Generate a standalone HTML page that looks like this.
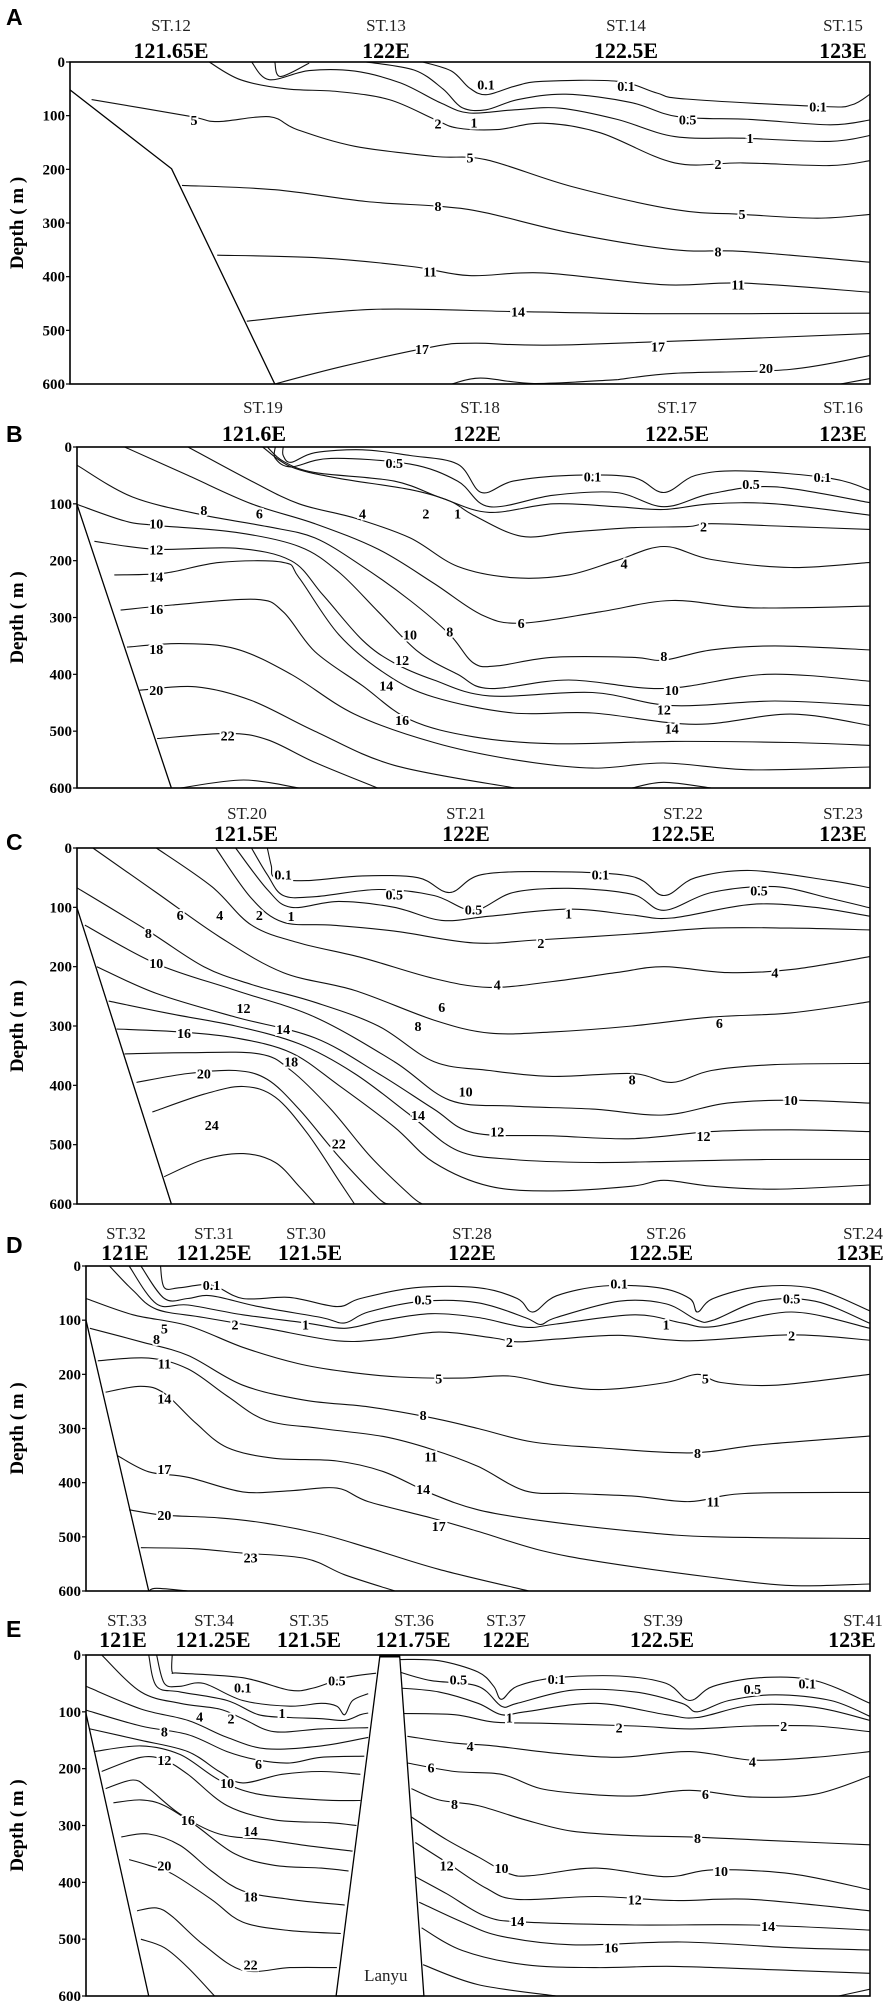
<!DOCTYPE html>
<html><head><meta charset="utf-8"><title>Temperature sections A–E</title>
<style>
html,body{margin:0;padding:0;background:#fff;}
svg{display:block;}
.st{font-family:"Liberation Serif",serif;font-size:17px;fill:#222;}
.lon{font-family:"Liberation Serif",serif;font-size:22px;font-weight:bold;fill:#000;}
.tick{font-family:"Liberation Serif",serif;font-size:15px;font-weight:bold;fill:#000;}
.lbl{font-family:"Liberation Serif",serif;font-size:14px;font-weight:bold;fill:#000;stroke:#fff;stroke-width:4px;paint-order:stroke;}
.letter{font-family:"Liberation Sans",sans-serif;font-size:23px;font-weight:bold;fill:#000;}
.ytitle{font-family:"Liberation Serif",serif;font-size:19px;font-weight:bold;fill:#000;}
</style></head>
<body>
<svg id="fig" width="886" height="2012" viewBox="0 0 886 2012" xmlns="http://www.w3.org/2000/svg"></svg>
<script>
const depthTicks = [0,100,200,300,400,500,600];

// ---------- Panel A ----------
const stationsA = ["ST.12","ST.13","ST.14","ST.15"];
const lonsA = ["121.65E","122E","122.5E","123E"];
const landA = [[0,52],[0.127,199],[0.256,600]];
const linesA = [
 [0.1,[[0.441,0],[0.477,17],[0.499,48],[0.52,61],[0.556,45],[0.591,36],[0.684,36],[0.734,58],[0.77,69],[0.941,83],[0.977,80],[1,60]]],
 [0.5,[[0.37,0],[0.43,15],[0.466,50],[0.49,85],[0.52,89],[0.56,70],[0.62,60],[0.70,75],[0.76,102],[0.85,107],[0.95,117],[1,108]]],
 [1,[[0.227,0],[0.249,33],[0.299,16],[0.356,17],[0.413,39],[0.463,76],[0.499,95],[0.556,89],[0.613,86],[0.684,107],[0.756,139],[0.841,142],[0.949,148],[1,137]]],
 [0.1,[[0.256,0],[0.263,27],[0.299,2]]],
 [2,[[0.174,0],[0.213,33],[0.27,50],[0.334,55],[0.399,70],[0.456,107],[0.484,123],[0.534,126],[0.591,114],[0.663,132],[0.756,188],[0.841,188],[0.949,193],[1,184]]],
 [5,[[0.027,70],[0.149,101],[0.184,111],[0.249,102],[0.284,126],[0.356,157],[0.456,176],[0.52,182],[0.627,232],[0.756,275],[0.841,284],[0.934,291],[1,284]]],
 [8,[[0.14,230],[0.256,238],[0.37,260],[0.463,269],[0.52,281],[0.627,319],[0.756,350],[0.841,353],[1,373]]],
 [11,[[0.184,360],[0.313,365],[0.427,381],[0.499,398],[0.591,393],[0.741,415],[0.841,412],[1,429]]],
 [14,[[0.221,483],[0.377,461],[0.556,465],[0.734,469],[1,468]]],
 [17,[[0.256,600],[0.341,567],[0.456,530],[0.506,524],[0.627,527],[1,506]]],
 [20,[[0.684,592],[0.756,580],[0.899,573],[1,547]]],
 [20,[[0.477,600],[0.513,589],[0.58,599],[0.684,592]]],
 [23,[[0.963,600],[1,590]]]
];
const labelsA = [["0.1",0.52,42],["0.1",0.695,45],["0.1",0.935,83],["0.5",0.772,107],["1",0.505,113],["2",0.46,115],["1",0.85,142],["2",0.81,190],["5",0.155,108],["5",0.5,178],["8",0.46,268],["11",0.45,390],["14",0.56,465],["17",0.44,535],["17",0.735,530],["20",0.87,570],["5",0.84,283],["8",0.81,353],["11",0.835,415]];

// ---------- Panel B ----------
const stationsB = ["ST.19","ST.18","ST.17","ST.16"];
const lonsB = ["121.6E","122E","122.5E","123E"];
const landB = [[0,101],[0.119,600]];
const linesB = [
 [0.1,[[0.26,0],[0.26,15],[0.27,27],[0.3,10],[0.36,5],[0.42,15],[0.48,30],[0.51,80],[0.55,60],[0.62,50],[0.7,53],[0.74,80],[0.78,50],[0.84,42],[0.95,55],[1,76]]],
 [0.5,[[0.25,0],[0.25,20],[0.27,35],[0.32,20],[0.42,30],[0.48,60],[0.52,105],[0.6,85],[0.68,80],[0.74,105],[0.8,82],[0.88,70],[1,98]]],
 [1,[[0.24,0],[0.26,25],[0.3,45],[0.4,60],[0.46,90],[0.52,115],[0.6,100],[0.68,105],[0.74,110],[0.8,100],[0.88,100],[1,120]]],
 [2,[[0.234,0],[0.27,35],[0.33,55],[0.42,75],[0.47,95],[0.5,120],[0.56,157],[0.62,150],[0.7,142],[0.77,140],[0.8,135],[0.9,140],[1,145]]],
 [4,[[0.14,0],[0.22,60],[0.28,100],[0.35,125],[0.42,160],[0.48,210],[0.55,230],[0.62,225],[0.68,200],[0.74,175],[0.8,198],[0.9,212],[1,203]]],
 [6,[[0.06,0],[0.14,50],[0.22,100],[0.3,135],[0.38,180],[0.45,240],[0.51,295],[0.56,310],[0.66,290],[0.75,270],[0.85,283],[1,280]]],
 [8,[[0,32],[0.07,88],[0.16,120],[0.24,140],[0.3,160],[0.36,210],[0.42,270],[0.47,330],[0.5,380],[0.53,385],[0.6,370],[0.7,370],[0.74,375],[0.8,357],[0.88,350],[1,357]]],
 [10,[[0,101],[0.06,130],[0.10,138],[0.2,150],[0.28,175],[0.33,220],[0.38,290],[0.43,360],[0.48,400],[0.52,425],[0.62,410],[0.74,425],[0.87,400],[1,412]]],
 [12,[[0.022,166],[0.1,180],[0.2,178],[0.27,200],[0.31,260],[0.36,340],[0.40,380],[0.45,410],[0.52,438],[0.65,432],[0.75,455],[0.88,447],[1,455]]],
 [14,[[0.047,225],[0.11,222],[0.18,203],[0.26,203],[0.28,230],[0.33,330],[0.39,400],[0.45,440],[0.55,468],[0.65,468],[0.78,488],[0.9,470],[1,490]]],
 [16,[[0.055,287],[0.12,278],[0.225,268],[0.26,290],[0.30,360],[0.36,420],[0.42,480],[0.50,510],[0.60,522],[0.75,518],[0.9,520],[1,525]]],
 [18,[[0.063,352],[0.13,346],[0.20,355],[0.27,400],[0.35,470],[0.45,520],[0.55,550],[0.65,565],[0.74,556],[0.85,568],[1,563]]],
 [20,[[0.079,428],[0.15,422],[0.22,446],[0.30,500],[0.40,560],[0.552,600]]],
 [22,[[0.101,513],[0.19,504],[0.24,515],[0.30,555],[0.379,600]]],
 [24,[[0.13,600],[0.21,586],[0.28,600]]],
 [20,[[0.70,600],[0.74,590],[0.80,600]]]
];
const labelsB = [["0.5",0.4,28],["0.1",0.65,52],["0.5",0.85,65],["0.1",0.94,53],["8",0.16,111],["6",0.23,117],["4",0.36,117],["2",0.44,117],["1",0.48,117],["2",0.79,140],["4",0.69,205],["6",0.56,310],["8",0.74,368],["10",0.75,428],["12",0.74,462],["14",0.75,495],["10",0.1,135],["12",0.1,180],["14",0.1,228],["16",0.1,285],["18",0.1,355],["20",0.1,428],["22",0.19,508],["10",0.42,330],["8",0.47,325],["12",0.41,375],["14",0.39,420],["16",0.41,480]];

// ---------- Panel C ----------
const stationsC = ["ST.20","ST.21","ST.22","ST.23"];
const lonsC = ["121.5E","122E","122.5E","123E"];
const landC = [[0,101],[0.119,600]];
const linesC = [
 [0.1,[[0.24,0],[0.245,30],[0.25,50],[0.29,55],[0.36,47],[0.43,50],[0.47,75],[0.51,45],[0.6,40],[0.7,48],[0.74,80],[0.78,50],[0.85,38],[0.95,55],[1,67]]],
 [0.5,[[0.22,0],[0.24,45],[0.26,80],[0.3,82],[0.38,70],[0.45,80],[0.5,105],[0.55,75],[0.62,68],[0.7,78],[0.74,105],[0.8,75],[0.88,65],[0.95,85],[1,101]]],
 [1,[[0.2,0],[0.24,70],[0.27,100],[0.33,90],[0.4,100],[0.46,122],[0.52,115],[0.62,103],[0.7,113],[0.75,118],[0.85,95],[0.93,100],[1,115]]],
 [2,[[0.175,0],[0.22,85],[0.26,125],[0.32,130],[0.4,140],[0.5,160],[0.58,155],[0.7,145],[0.8,135],[0.9,135],[1,138]]],
 [4,[[0.1,0],[0.17,65],[0.22,130],[0.28,160],[0.36,185],[0.45,220],[0.52,235],[0.6,225],[0.68,210],[0.74,200],[0.82,210],[0.9,205],[1,183]]],
 [6,[[0.02,0],[0.1,75],[0.18,150],[0.26,210],[0.35,240],[0.45,290],[0.52,312],[0.6,310],[0.7,300],[0.8,285],[0.9,278],[1,259]]],
 [8,[[0,67],[0.09,140],[0.16,200],[0.22,230],[0.3,260],[0.38,300],[0.45,360],[0.52,375],[0.6,385],[0.7,380],[0.75,395],[0.8,375],[0.88,365],[1,363]]],
 [10,[[0.01,130],[0.1,195],[0.2,240],[0.3,285],[0.4,360],[0.47,425],[0.55,435],[0.65,440],[0.74,450],[0.82,430],[0.9,425],[1,430]]],
 [12,[[0.025,200],[0.1,245],[0.2,285],[0.3,320],[0.38,380],[0.45,440],[0.5,480],[0.6,485],[0.7,490],[0.8,478],[0.9,475],[1,478]]],
 [14,[[0.04,258],[0.12,280],[0.2,300],[0.28,330],[0.35,380],[0.42,450],[0.48,510],[0.55,525],[0.65,530],[0.75,528],[0.87,525],[1,525]]],
 [16,[[0.05,305],[0.13,310],[0.2,320],[0.27,345],[0.33,400],[0.4,470],[0.45,530],[0.52,570],[0.6,578],[0.7,570],[0.74,560],[0.8,570],[0.88,575],[1,568]]],
 [18,[[0.06,347],[0.14,345],[0.23,347],[0.27,375],[0.32,440],[0.37,520],[0.42,585],[0.435,600]]],
 [20,[[0.075,395],[0.14,380],[0.2,375],[0.24,390],[0.28,440],[0.33,520],[0.38,590],[0.393,600]]],
 [22,[[0.095,445],[0.16,415],[0.21,402],[0.25,420],[0.29,480],[0.33,560],[0.35,600]]],
 [24,[[0.11,554],[0.16,525],[0.21,515],[0.25,530],[0.28,570],[0.30,600]]]
];
const labelsC = [["0.1",0.26,45],["0.5",0.4,78],["0.5",0.5,104],["0.1",0.66,45],["0.5",0.86,72],["1",0.27,115],["1",0.62,110],["2",0.23,113],["4",0.18,113],["6",0.13,113],["8",0.09,143],["10",0.1,194],["12",0.21,270],["14",0.26,305],["16",0.135,312],["18",0.27,360],["20",0.16,380],["24",0.17,467],["22",0.33,498],["2",0.585,160],["4",0.53,230],["6",0.46,268],["8",0.43,300],["10",0.49,410],["12",0.53,478],["14",0.43,450],["4",0.88,210],["6",0.81,295],["8",0.7,390],["10",0.9,425],["12",0.79,485]];

// ---------- Panel D ----------
const stationsD = ["ST.32","ST.31","ST.30","ST.28","ST.26","ST.24"];
const lonsD = ["121E","121.25E","121.5E","122E","122.5E","123E"];
const landD = [[0,100],[0.08,600]];
const linesD = [
 [0.1,[[0.095,0],[0.1,40],[0.12,40],[0.16,35],[0.2,60],[0.26,58],[0.32,75],[0.35,60],[0.42,40],[0.5,40],[0.55,60],[0.57,85],[0.6,55],[0.66,37],[0.73,40],[0.77,60],[0.78,85],[0.8,60],[0.86,38],[0.93,42],[1,83]]],
 [0.5,[[0.07,0],[0.1,60],[0.13,60],[0.16,55],[0.22,75],[0.3,95],[0.33,105],[0.36,85],[0.43,65],[0.5,68],[0.56,95],[0.58,108],[0.6,95],[0.68,65],[0.74,70],[0.78,100],[0.8,100],[0.86,65],[0.93,65],[1,106]]],
 [1,[[0.055,0],[0.09,70],[0.13,72],[0.2,90],[0.28,105],[0.33,115],[0.38,100],[0.44,88],[0.5,95],[0.56,113],[0.6,107],[0.7,90],[0.76,105],[0.8,112],[0.9,85],[1,115]]],
 [2,[[0.03,0],[0.06,45],[0.09,80],[0.15,95],[0.23,115],[0.32,138],[0.38,135],[0.45,122],[0.52,133],[0.55,140],[0.6,135],[0.68,128],[0.77,138],[0.9,127],[1,137]]],
 [5,[[0,60],[0.06,90],[0.13,110],[0.2,150],[0.27,180],[0.33,195],[0.4,205],[0.48,207],[0.54,203],[0.6,220],[0.66,228],[0.74,215],[0.78,200],[0.81,215],[0.88,220],[1,200]]],
 [8,[[0.005,115],[0.07,140],[0.13,165],[0.2,220],[0.28,248],[0.36,260],[0.44,280],[0.5,300],[0.57,325],[0.65,335],[0.77,345],[0.86,330],[1,314]]],
 [11,[[0.015,175],[0.08,170],[0.13,190],[0.18,240],[0.23,285],[0.3,300],[0.38,315],[0.44,338],[0.5,370],[0.56,415],[0.62,420],[0.7,425],[0.77,435],[0.84,420],[1,418]]],
 [14,[[0.025,233],[0.07,222],[0.1,235],[0.14,290],[0.18,335],[0.24,355],[0.32,360],[0.38,380],[0.44,420],[0.5,450],[0.58,470],[0.7,490],[0.8,500],[1,503]]],
 [17,[[0.04,350],[0.08,380],[0.13,390],[0.2,417],[0.26,415],[0.32,410],[0.36,435],[0.44,465],[0.5,490],[0.58,525],[0.66,547],[0.8,575],[0.9,590],[1,587]]],
 [20,[[0.055,450],[0.1,460],[0.17,465],[0.23,475],[0.3,495],[0.36,520],[0.45,560],[0.565,600]]],
 [23,[[0.07,520],[0.14,522],[0.2,530],[0.28,540],[0.33,570],[0.394,600]]],
 [26,[[0.08,600],[0.09,595],[0.13,600]]]
];
const labelsD = [["0.1",0.16,35],["0.1",0.68,32],["0.5",0.43,62],["0.5",0.9,60],["1",0.28,108],["1",0.74,108],["2",0.19,108],["5",0.1,115],["8",0.09,135],["11",0.1,180],["14",0.1,245],["17",0.1,375],["20",0.1,460],["23",0.21,538],["2",0.54,140],["2",0.9,128],["5",0.45,208],["5",0.79,208],["8",0.43,275],["8",0.78,345],["11",0.44,352],["11",0.8,435],["14",0.43,412],["17",0.45,480]];

// ---------- Panel E ----------
const stationsE = ["ST.33","ST.34","ST.35","ST.36","ST.37","ST.39","ST.41"];
const lonsE = ["121E","121.25E","121.5E","121.75E","122E","122.5E","123E"];
const landE = [[0,103],[0.08,600]];
const islandE = [[0.319,600],[0.375,0],[0.4,0],[0.431,600]];
const linesE = [
 [0.1,[[0.11,0],[0.11,30],[0.12,32],[0.2,40],[0.26,62],[0.29,58],[0.33,40],[0.37,32]]],
 [0.5,[[0.09,0],[0.1,50],[0.12,55],[0.15,50],[0.2,80],[0.26,90],[0.3,85],[0.32,90],[0.33,105],[0.34,80],[0.36,68]]],
 [1,[[0.08,0],[0.09,55],[0.12,65],[0.18,80],[0.22,105],[0.26,110],[0.3,112],[0.33,115],[0.35,105],[0.36,102]]],
 [2,[[0.02,0],[0.07,65],[0.12,85],[0.17,95],[0.2,112],[0.24,135],[0.3,130],[0.36,128]]],
 [4,[[0,55],[0.07,95],[0.13,115],[0.18,145],[0.23,165],[0.3,160],[0.36,145]]],
 [6,[[0,97],[0.07,125],[0.13,140],[0.18,170],[0.22,185],[0.26,190],[0.3,180],[0.355,178]]],
 [8,[[0.005,130],[0.07,150],[0.13,170],[0.17,205],[0.2,225],[0.25,210],[0.3,205],[0.35,210]]],
 [10,[[0.01,170],[0.07,160],[0.12,175],[0.17,220],[0.22,245],[0.3,255],[0.35,256]]],
 [12,[[0.02,205],[0.07,180],[0.1,185],[0.13,210],[0.18,265],[0.24,290],[0.31,295],[0.345,300]]],
 [14,[[0.025,235],[0.06,220],[0.08,235],[0.12,280],[0.17,315],[0.23,325],[0.28,335],[0.34,345]]],
 [16,[[0.035,260],[0.07,255],[0.1,265],[0.14,300],[0.19,350],[0.24,370],[0.3,375],[0.335,380]]],
 [18,[[0.045,320],[0.08,315],[0.12,335],[0.16,380],[0.2,415],[0.26,430],[0.33,440]]],
 [20,[[0.055,360],[0.08,370],[0.11,385],[0.16,430],[0.2,470],[0.26,485],[0.325,490]]],
 [22,[[0.065,450],[0.09,445],[0.11,460],[0.15,510],[0.2,555],[0.26,550],[0.32,550]]],
 [24,[[0.07,500],[0.1,515],[0.13,550],[0.164,600]]],
 [0.1,[[0.40,8],[0.45,10],[0.5,30],[0.52,55],[0.53,78],[0.55,55],[0.6,40],[0.68,37],[0.74,50],[0.77,80],[0.8,55],[0.86,40],[0.93,45],[1,85]]],
 [0.5,[[0.40,30],[0.44,45],[0.5,55],[0.53,90],[0.55,85],[0.62,62],[0.7,65],[0.76,85],[0.78,100],[0.82,80],[0.88,70],[0.95,80],[1,108]]],
 [1,[[0.40,58],[0.45,65],[0.5,85],[0.53,105],[0.56,100],[0.65,85],[0.74,105],[0.78,110],[0.85,88],[0.93,92],[1,115]]],
 [2,[[0.40,103],[0.47,105],[0.52,118],[0.58,120],[0.7,125],[0.77,130],[0.85,125],[0.93,125],[1,135]]],
 [4,[[0.41,143],[0.47,155],[0.52,160],[0.6,173],[0.68,180],[0.77,170],[0.85,185],[0.93,180],[1,170]]],
 [6,[[0.41,190],[0.47,205],[0.53,210],[0.58,235],[0.64,245],[0.7,248],[0.77,238],[0.85,250],[0.93,245],[1,213]]],
 [8,[[0.415,235],[0.45,255],[0.5,265],[0.56,290],[0.62,310],[0.7,318],[0.77,320],[0.85,325],[0.93,330],[1,334]]],
 [10,[[0.415,285],[0.46,325],[0.5,355],[0.54,385],[0.57,388],[0.65,375],[0.74,390],[0.8,378],[0.9,385],[1,413]]],
 [12,[[0.42,330],[0.46,365],[0.51,410],[0.55,430],[0.65,425],[0.75,432],[0.85,430],[1,450]]],
 [14,[[0.42,390],[0.46,420],[0.51,460],[0.56,470],[0.7,475],[0.85,475],[1,484]]],
 [16,[[0.425,435],[0.48,470],[0.53,495],[0.62,510],[0.76,505],[0.9,515],[1,519]]],
 [18,[[0.428,480],[0.48,520],[0.56,545],[0.65,550],[0.75,548],[0.9,555],[1,560]]],
 [20,[[0.43,545],[0.5,580],[0.6,600]]],
 [20,[[0.96,600],[1,588]]]
];
const labelsE = [["0.1",0.2,57],["0.5",0.32,45],["1",0.25,102],["2",0.185,112],["4",0.145,108],["8",0.1,135],["12",0.1,185],["6",0.22,192],["10",0.18,225],["16",0.13,290],["14",0.21,310],["20",0.1,370],["18",0.21,425],["22",0.21,545],["0.5",0.475,43],["0.1",0.6,42],["0.5",0.85,60],["0.1",0.92,50],["1",0.54,110],["2",0.68,128],["2",0.89,125],["4",0.49,160],["4",0.85,187],["6",0.44,198],["6",0.79,245],["8",0.47,262],["8",0.78,322],["10",0.53,375],["10",0.81,380],["12",0.46,370],["12",0.7,430],["14",0.55,468],["14",0.87,477],["16",0.67,515]];

// ---------- layout (pixel geometry, not data) ----------
const layout = {
 A:{L:70,R:870,T:62,B:384,letterY:25,stY:31,lonY:58,stX:[171,386,626,843],lonX:[171,386,626,843]},
 B:{L:77,R:870,T:447,B:788,letterY:442,stY:413,lonY:441,stX:[263,480,677,843],lonX:[254,477,677,843]},
 C:{L:77,R:870,T:848,B:1204,letterY:850,stY:819,lonY:841,stX:[247,466,683,843],lonX:[246,466,683,843]},
 D:{L:86,R:870,T:1266,B:1591,letterY:1253,stY:1239,lonY:1260,stX:[126,214,306,472,666,863],lonX:[125,214,310,472,661,860]},
 E:{L:86,R:870,T:1655,B:1996,letterY:1637,stY:1626,lonY:1647,stX:[127,214,309,414,506,663,863],lonX:[123,213,309,413,506,662,852]}
};

const svg = document.getElementById('fig');
const NS = 'http://www.w3.org/2000/svg';
function mk(tag, attrs, parent){ const e=document.createElementNS(NS,tag); for(const k in attrs) e.setAttribute(k,attrs[k]); parent.appendChild(e); return e; }
function smooth(pts){
 let d='M'+pts[0][0].toFixed(1)+','+pts[0][1].toFixed(1);
 for(let i=0;i<pts.length-1;i++){
  const p0=pts[i-1]||pts[i], p1=pts[i], p2=pts[i+1], p3=pts[i+2]||p2;
  const c1=[p1[0]+(p2[0]-p0[0])/6, p1[1]+(p2[1]-p0[1])/6];
  const c2=[p2[0]-(p3[0]-p1[0])/6, p2[1]-(p3[1]-p1[1])/6];
  d+='C'+c1.map(v=>v.toFixed(1)).join(',')+' '+c2.map(v=>v.toFixed(1)).join(',')+' '+p2[0].toFixed(1)+','+p2[1].toFixed(1);
 }
 return d;
}

function drawPanel(key, stations, lons, land, lines, labels, island){
 const g = layout[key];
 const x = f => g.L + f*(g.R-g.L);
 const y = d => g.T + d/600*(g.B-g.T);
 const grp = mk('g',{},svg);
 
 

 const letter = mk('text',{x:6,y:g.letterY,class:'letter'},grp);
 letter.textContent = key;
 
 

 stations.forEach((s,i)=>{
  const t = mk('text',{x:g.stX[i],y:g.stY,class:'st','text-anchor':'middle'},grp);
  t.textContent = s;
  
  
 });
 lons.forEach((s,i)=>{
  const t = mk('text',{x:g.lonX[i],y:g.lonY,class:'lon','text-anchor':'middle'},grp);
  t.textContent = s;
  
  
 });

 // contour lines
 lines.forEach(([lev,pts])=>{
  const p = mk('path',{d:smooth(pts.map(q=>[x(q[0]),y(q[1])])),fill:'none',stroke:'#111','stroke-width':1.1},grp);
  
  
 });

 // land / slope boundary
 const lp = mk('polyline',{points:land.map(q=>x(q[0])+','+y(q[1])).join(' '),fill:'none',stroke:'#000','stroke-width':1.3},grp);
 
 

 if(island){
  const ip = mk('polygon',{points:island.map(q=>x(q[0])+','+y(q[1])).join(' '),fill:'#fff',stroke:'#000','stroke-width':1.3},grp);
  
  
  const cap = mk('line',{x1:x(island[1][0]),x2:x(island[2][0]),y1:y(0)+1,y2:y(0)+1,stroke:'#000','stroke-width':3},grp);
  
  
  const lt = mk('text',{x:x((island[1][0]+island[2][0])/2)-4,y:y(565)+5,class:'st','text-anchor':'middle'},grp);
  lt.textContent='Lanyu';
  
  
 }

 // contour labels
 labels.forEach(([txt,f,d])=>{
  const t = mk('text',{x:x(f),y:y(d)+5,class:'lbl','text-anchor':'middle'},grp);
  t.textContent = txt;
  
  
 });

 // frame
 const fr = mk('rect',{x:g.L,y:g.T,width:g.R-g.L,height:g.B-g.T,fill:'none',stroke:'#000','stroke-width':1.6},grp);
 
 

 depthTicks.forEach(v=>{
  const tk = mk('line',{x1:g.L-4,x2:g.L,y1:y(v),y2:y(v),stroke:'#000','stroke-width':1.2},grp);
  
  
  const tl = mk('text',{x:g.L-5,y:y(v)+5,class:'tick','text-anchor':'end'},grp);
  tl.textContent = v;
  
  
 });

 const cy = (g.T+g.B)/2;
 const yt = mk('text',{x:0,y:0,class:'ytitle','text-anchor':'middle',transform:'translate(23,'+cy+') rotate(-90)'},grp);
 yt.textContent = 'Depth ( m )';
 
 
}

drawPanel('A', stationsA, lonsA, landA, linesA, labelsA, null);
drawPanel('B', stationsB, lonsB, landB, linesB, labelsB, null);
drawPanel('C', stationsC, lonsC, landC, linesC, labelsC, null);
drawPanel('D', stationsD, lonsD, landD, linesD, labelsD, null);
drawPanel('E', stationsE, lonsE, landE, linesE, labelsE, islandE);
</script>
</body></html>
